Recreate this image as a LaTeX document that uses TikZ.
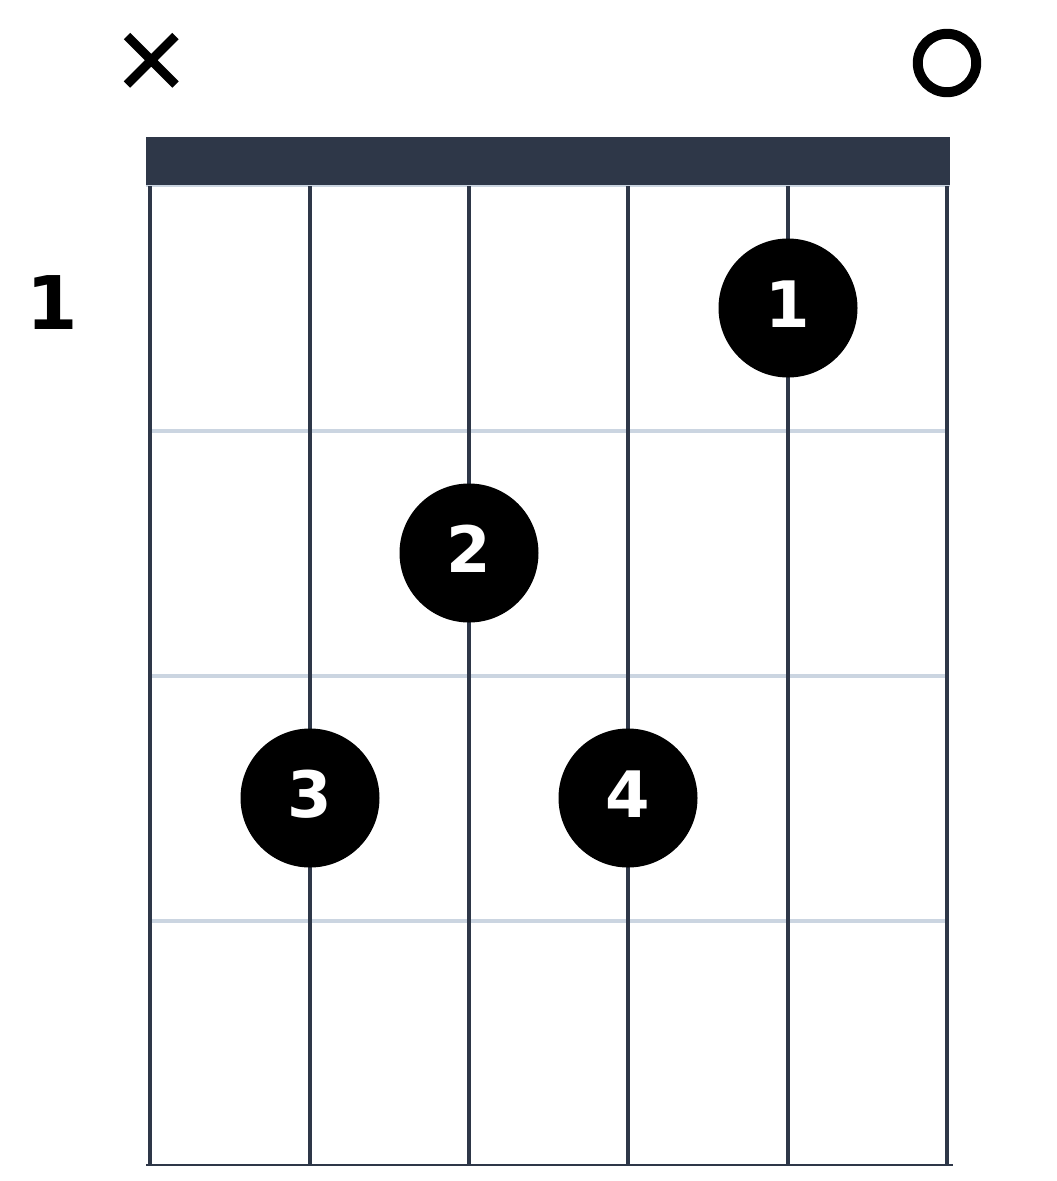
\documentclass[tikz,border=0pt]{standalone}
\usepackage{fontspec}
\setmainfont{DejaVu Sans}
\definecolor{nutc}{HTML}{2E3748}
\definecolor{fretc}{HTML}{CBD5E1}
\begin{document}
\begin{tikzpicture}[x=1pt,y=-1pt,
  stringline/.style={draw=nutc,line width=4.2pt},
  fretline/.style={draw=fretc,line width=4pt},
  dot/.style={circle,fill=black,minimum size=139pt,inner sep=0pt},
  dotnum/.style={inner sep=0pt,text=white,font=\fontsize{64}{64}\selectfont\bfseries},
  fretlabel/.style={inner sep=0pt,text=black,font=\fontsize{74}{74}\selectfont\bfseries}]
\useasboundingbox (0,0) rectangle (1057,1181);
% nut
\fill[nutc] (146,137) rectangle (950,185);
\draw[fretc,line width=1.5pt] (146,186) -- (950,186);
% frets
\foreach \y in {431,676,921} \draw[fretline] (150,\y) -- (947,\y);
% bottom line
\draw[nutc,line width=2pt] (146,1165) -- (953,1165);
% strings
\foreach \x in {150,310,469,628,788,947} \draw[stringline] (\x,186) -- (\x,1165);
% muted / open markers
\draw[black,line width=9pt] (127,36) -- (175.5,84.5) (127,84.5) -- (175.5,36);
\draw[black,line width=10pt] (947,63) circle[radius=29.2];
% fret number
\node[fretlabel] (fn) at (52,303) {1};
% finger dots
\node[dot] (f1) at (788,308) {};
\node[dotnum] (t1) at (788,304) {1};
\node[dot] (f2) at (469,553) {};
\node[dotnum] (t2) at (469,549) {2};
\node[dot] (f3) at (310,798) {};
\node[dotnum] (t3) at (310,794) {3};
\node[dot] (f4) at (628,798) {};
\node[dotnum] (t4) at (628,794) {4};
\end{tikzpicture}
\end{document}
